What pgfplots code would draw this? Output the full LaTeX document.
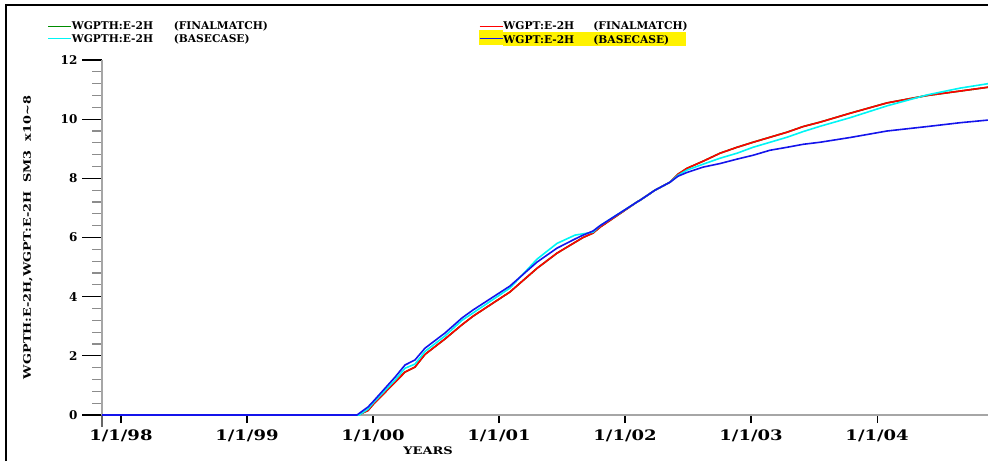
\documentclass[border=0pt]{standalone}
\usepackage{pgfplots}
\pgfplotsset{compat=1.18}
\usepackage{fontspec}
\setmainfont{DejaVu Serif}
\newfontfamily\wide[FakeStretch=1.25]{DejaVu Serif}
\definecolor{fmgreen}{RGB}{0,140,0}
\definecolor{bccyan}{RGB}{0,245,245}
\definecolor{bcblue}{RGB}{20,20,235}
\pgfplotsset{
  normallegend/.style={legend image code/.code={\draw[##1, line width=1.2pt] (0pt,0pt) -- (17.25pt,0pt);}},
  yellowlegend/.style={legend image code/.code={\fill[yellow] (0pt,-4.5pt) rectangle (17.25pt,6pt); \draw[##1, line width=1.2pt] (0pt,0pt) -- (17.25pt,0pt);}},
}
\newcommand{\lstrut}{\rule[-1.5pt]{0pt}{8pt}}
\begin{document}
\begin{tikzpicture}[x=0.75pt,y=0.75pt]
\useasboundingbox (0,0) rectangle (988,461);
\draw[line width=1.5pt] (5.5,0) -- (5.5,455.5) -- (988,455.5);
\begin{axis}[
  scale only axis, width=664.5pt, height=266.25pt,
  at={(76.5pt,34.5pt)}, anchor=south west,
  xmin=1997.85, xmax=2004.88, ymin=0, ymax=12,
  axis lines*=left,
  axis line style={black!35, line width=1.2pt},
  tick align=outside,
  major tick length=15pt, minor tick length=7.5pt,
  ytick={0,2,4,6,8,10,12},
  yticklabels={0,2,4,6,8,10,12},
  minor y tick num=4,
  y tick style={black, line width=0.9pt},
  minor y tick style={black!45, line width=0.9pt},
  xtick={1998,1999,2000,2001,2002,2003,2004},
  xticklabels={1/1/98,1/1/99,1/1/00,1/1/01,1/1/02,1/1/03,1/1/04},
  x tick style={black, line width=0.9pt, /pgfplots/major tick length=6pt},
  extra x ticks={1997.85}, extra x tick labels={},
  extra x tick style={x tick style={black!60, line width=0.9pt, /pgfplots/major tick length=9pt}},
  yticklabel style={font=\bfseries\fontsize{9}{10}\selectfont},
  xticklabel style={font=\wide\bfseries\fontsize{10.8}{12}\selectfont, yshift=7.5pt},
  xlabel={YEARS},
  xlabel style={at={(axis description cs:0.368,0)}, anchor=north, inner sep=0pt, yshift=-24pt, font=\wide\bfseries\fontsize{7.8}{10}\selectfont},
  ylabel={WGPTH:E-2H,WGPT:E-2H\ \ SM3\ \ x10\textasciitilde 8},
  ylabel style={at={(axis description cs:-0.0835,0.5)}, anchor=center, inner sep=0pt, font=\wide\bfseries\fontsize{7.7}{10}\selectfont},
  legend columns=2,
  legend style={draw=none, fill=none, at={(axis description cs:-0.0621,1.11)}, anchor=north west,
    inner sep=0pt, row sep=-1.5pt, column sep=0pt, nodes={inner sep=0pt},
    font=\bfseries\fontsize{8}{10}\selectfont},
  legend cell align=left,
  normallegend,
  every axis plot/.append style={line width=1.2pt},
]
% WGPTH FINALMATCH (green)
\addplot[fmgreen, mark=none] coordinates {
(1997.85,0) (1999.88,0) (1999.96,0.15) (2000.0,0.35) (2000.175,1.11) (2000.254,1.45)
(2000.333,1.62) (2000.413,2.05) (2000.571,2.57) (2000.706,3.05) (2000.794,3.34)
(2001.087,4.16) (2001.302,4.96) (2001.46,5.47) (2001.667,6.0) (2001.746,6.15)
(2001.802,6.35) (2002.095,7.2) (2002.119,7.26) (2002.238,7.6) (2002.357,7.87)
(2002.42,8.14) (2002.492,8.34) (2002.62,8.58) (2002.754,8.85) (2002.889,9.05)
(2003.016,9.22) (2003.151,9.39) (2003.286,9.56) (2003.413,9.75) (2003.548,9.9)
(2003.786,10.2) (2004.079,10.55) (2004.397,10.8) (2004.659,10.95) (2004.881,11.08)};
\addlegendentry{\makebox[305.25pt][l]{\lstrut\makebox[76.5pt][l]{WGPTH:E-2H}(FINALMATCH)}}
% WGPT FINALMATCH (red)
\addplot[red, mark=none] coordinates {
(1997.85,0) (1999.88,0) (1999.96,0.15) (2000.0,0.35) (2000.175,1.11) (2000.254,1.45)
(2000.333,1.62) (2000.413,2.05) (2000.571,2.57) (2000.706,3.05) (2000.794,3.34)
(2001.087,4.16) (2001.302,4.96) (2001.46,5.47) (2001.667,6.0) (2001.746,6.15)
(2001.802,6.35) (2002.095,7.2) (2002.119,7.26) (2002.238,7.6) (2002.357,7.87)
(2002.42,8.14) (2002.492,8.34) (2002.62,8.58) (2002.754,8.85) (2002.889,9.05)
(2003.016,9.22) (2003.151,9.39) (2003.286,9.56) (2003.413,9.75) (2003.548,9.9)
(2003.786,10.2) (2004.079,10.55) (2004.397,10.8) (2004.659,10.95) (2004.881,11.08)};
\addlegendentry{\lstrut\makebox[67.5pt][l]{WGPT:E-2H}(FINALMATCH)}
% WGPTH BASECASE (cyan)
\addplot[bccyan, mark=none] coordinates {
(1997.85,0) (1999.89,0) (1999.96,0.2) (2000.0,0.4) (2000.175,1.18) (2000.254,1.58)
(2000.333,1.72) (2000.413,2.15) (2000.571,2.67) (2000.706,3.2) (2000.794,3.45)
(2001.087,4.29) (2001.302,5.27) (2001.46,5.8) (2001.603,6.08) (2001.746,6.18)
(2001.802,6.4) (2002.095,7.2) (2002.119,7.26) (2002.238,7.6) (2002.357,7.87)
(2002.42,8.1) (2002.492,8.28) (2002.62,8.48) (2002.754,8.68) (2002.889,8.85)
(2003.016,9.05) (2003.151,9.22) (2003.286,9.39) (2003.413,9.58) (2003.548,9.76)
(2003.786,10.05) (2004.079,10.45) (2004.397,10.82) (2004.659,11.05) (2004.881,11.2)};
\addlegendentry{\makebox[305.25pt][l]{\lstrut\makebox[76.5pt][l]{WGPTH:E-2H}(BASECASE)}}
% WGPT BASECASE (blue)
\addplot[bcblue, mark=none, yellowlegend] coordinates {
(1997.85,0) (1999.873,0) (1999.96,0.27) (2000.0,0.45) (2000.175,1.28) (2000.254,1.69)
(2000.333,1.86) (2000.413,2.26) (2000.571,2.77) (2000.706,3.28) (2000.794,3.55)
(2001.087,4.36) (2001.302,5.17) (2001.46,5.64) (2001.603,5.95) (2001.667,6.08)
(2001.746,6.22) (2001.802,6.4) (2002.095,7.2) (2002.119,7.26) (2002.238,7.6)
(2002.357,7.87) (2002.42,8.07) (2002.492,8.2) (2002.62,8.38) (2002.754,8.5)
(2002.889,8.65) (2003.016,8.78) (2003.151,8.95) (2003.286,9.05) (2003.413,9.15)
(2003.548,9.22) (2003.786,9.38) (2004.079,9.6) (2004.397,9.75) (2004.659,9.88)
(2004.881,9.97)};
\addlegendentry{{\setlength{\fboxsep}{0pt}\colorbox{yellow}{\makebox[137.25pt][l]{\rule[-2pt]{0pt}{10.5pt}\makebox[67.5pt][l]{WGPT:E-2H}(BASECASE)}}}}
\end{axis}
\end{tikzpicture}
\end{document}
